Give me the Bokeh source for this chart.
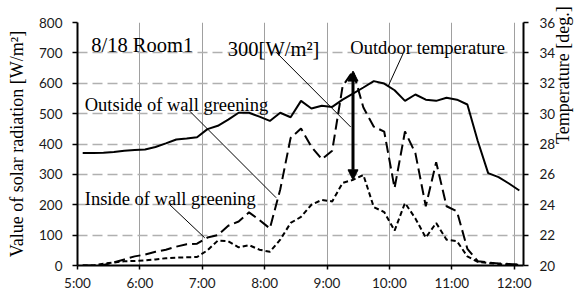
import math
from bokeh.plotting import figure
from bokeh.models import Range1d, LinearAxis, FixedTicker, Arrow, NormalHead
from bokeh.core.properties import value
from bokeh.embed import file_html
from bokeh.resources import INLINE

# ---- data ----
times = ["5:05", "5:15", "5:25", "5:35", "5:45", "5:55", "6:05", "6:15", "6:25", "6:35",
         "6:45", "6:55", "7:05", "7:15", "7:25", "7:35", "7:45", "7:55", "8:05", "8:15",
         "8:25", "8:35", "8:45", "8:55", "9:05", "9:15", "9:25", "9:35", "9:45", "9:55",
         "10:05", "10:15", "10:25", "10:35", "10:45", "10:55", "11:05", "11:15", "11:25", "11:35",
         "11:45", "11:55", "12:05"]
outdoor_temp = [27.4, 27.4, 27.42, 27.48, 27.56, 27.6, 27.64, 27.8, 28.04, 28.3,
                28.36, 28.44, 28.98, 29.2, 29.6, 30.06, 30.06, 29.8, 29.52, 30.06,
                29.76, 30.84, 30.34, 30.52, 30.44, 30.92, 31.32, 31.72, 32.14, 31.98,
                31.54, 30.84, 31.26, 30.92, 30.84, 31.04, 30.92, 30.6, 28.2, 26.08,
                25.82, 25.4, 24.94]
outside_rad = [0, 0, 2, 10, 20, 30, 36, 45, 52, 62,
               70, 72, 92, 100, 131, 145, 175, 150, 122, 250,
               420, 451, 391, 350, 378, 590, 640, 520, 457, 441,
               255, 441, 370, 195, 340, 195, 178, 55, 14, 10,
               7, 5, 3]
inside_rad = [0, 0, 6, 10, 14, 15, 17, 20, 24, 26,
              27, 28, 50, 82, 80, 60, 67, 52, 45, 85,
              140, 160, 200, 216, 211, 272, 282, 298, 192, 176,
              115, 206, 155, 92, 140, 85, 80, 30, 12, 8,
              5, 3, 2]
x_ticks = [5, 6, 7, 8, 9, 10, 11, 12]
x_tick_labels = ["5:00", "6:00", "7:00", "8:00", "9:00", "10:00", "11:00", "12:00"]
rad_ticks = [0, 100, 200, 300, 400, 500, 600, 700, 800]
temp_ticks = [20, 22, 24, 26, 28, 30, 32, 34, 36]

# annotation texts and their anchor points (hours, W/m2)
label_texts = ["8/18 Room1", "300[W/m²]"]
label_x = [5.22, 7.41]
label_y = [725, 714]
series_texts = ["Outdoor temperature", "Outside of wall greening", "Inside of wall greening"]
series_x = [9.374, 5.116, 5.116]
series_y = [716, 530, 220]
leader_x0 = [10.22, 6.80, 6.48, 8.185]
leader_y0 = [698, 508, 200, 702]
leader_x1 = [9.98, 8.185, 7.04, 9.38]
leader_y1 = [590, 223, 91, 456]


def to_hours(s):
    h, m = s.split(":")
    return int(h) + int(m) / 60.0


x = [to_hours(t) for t in times]

p = figure(width=586, height=293, output_backend="svg", toolbar_location=None,
           x_range=Range1d(5, 12.15), y_range=Range1d(0, 800),
           min_border_left=77, min_border_right=60, min_border_top=22, min_border_bottom=27)
p.outline_line_color = None
p.background_fill_color = "white"
p.border_fill_color = "white"

# grids
p.xgrid.ticker = FixedTicker(ticks=x_ticks)
p.xgrid.grid_line_color = "#a0a0a0"
p.xgrid.grid_line_width = 1
p.ygrid.ticker = FixedTicker(ticks=rad_ticks)
p.ygrid.grid_line_color = "#b0b0b0"
p.ygrid.grid_line_width = 1.5
p.ygrid.grid_line_dash = "10 5"

tick_font = "Lato"
tick_size = "13.5px"

# x axis
xa = p.xaxis[0]
xa.ticker = FixedTicker(ticks=x_ticks)
xa.major_label_overrides = {t: l for t, l in zip(x_ticks, x_tick_labels)}
xa.axis_line_width = 2
xa.axis_line_color = "black"
xa.major_tick_in = 0
xa.major_tick_out = 4
xa.major_tick_line_width = 1.5
xa.minor_tick_line_color = None
xa.major_label_text_font = tick_font
xa.major_label_text_font_size = tick_size
xa.major_label_text_color = "#1a1a1a"
xa.major_label_standoff = 5

# left axis
ya = p.yaxis[0]
ya.ticker = FixedTicker(ticks=rad_ticks)
ya.axis_label = "Value of solar radiation [W/m²]"
ya.axis_label_text_font = "Liberation Serif"
ya.axis_label_text_font_size = "18px"
ya.axis_label_text_font_style = "normal"
ya.axis_label_text_color = "black"
ya.axis_label_standoff = 9
ya.axis_line_width = 2
ya.axis_line_color = "black"
ya.major_tick_in = 0
ya.major_tick_out = 5
ya.major_tick_line_width = 1.5
ya.minor_tick_line_color = None
ya.major_label_text_font = tick_font
ya.major_label_text_font_size = tick_size
ya.major_label_text_color = "#1a1a1a"
ya.major_label_standoff = 10

# right axis
p.extra_y_ranges = {"temp": Range1d(20, 36)}
ra = LinearAxis(y_range_name="temp", ticker=FixedTicker(ticks=temp_ticks),
                axis_label="Temperature [deg.]")
ra.axis_label_text_font = "Liberation Serif"
ra.axis_label_text_font_size = "18px"
ra.axis_label_text_font_style = "normal"
ra.axis_label_text_color = "black"
ra.axis_label_standoff = 5
if "axis_label_orientation" in LinearAxis.properties():
    ra.axis_label_orientation = math.pi / 2
ra.axis_line_width = 2
ra.axis_line_color = "black"
ra.major_tick_in = 0
ra.major_tick_out = 5
ra.major_tick_line_width = 1.5
ra.minor_tick_line_color = None
ra.major_label_text_font = tick_font
ra.major_label_text_font_size = tick_size
ra.major_label_text_color = "#1a1a1a"
ra.major_label_standoff = 11
p.add_layout(ra, "right")

# series
p.line(x, outdoor_temp, y_range_name="temp", line_color="black", line_width=2)
p.line(x, outside_rad, line_color="black", line_width=2, line_dash="11 5")
p.line(x, inside_rad, line_color="black", line_width=2, line_dash="5 3")

# difference arrow at the peak of the outside series
idx = outside_rad.index(max(outside_rad))
p.add_layout(Arrow(x_start=x[idx], y_start=inside_rad[idx], x_end=x[idx], y_end=outside_rad[idx],
                   start=NormalHead(size=10, fill_color="black", line_color="black"),
                   end=NormalHead(size=10, fill_color="black", line_color="black"),
                   line_width=3, line_color="black"))

# leader lines
p.segment(x0=leader_x0, y0=leader_y0, x1=leader_x1, y1=leader_y1, line_color="black", line_width=1)

# annotation texts
p.text(x=label_x, y=label_y, text=label_texts, text_font=value("Liberation Serif"),
       text_font_size=value("20.5px"), text_baseline="alphabetic", text_align="left",
       text_color="black")
p.text(x=series_x, y=series_y, text=series_texts, text_font=value("Liberation Serif"),
       text_font_size=value("18.5px"), text_baseline="alphabetic", text_align="left",
       text_color="black")

open("out.html", "w").write(file_html(p, INLINE))
